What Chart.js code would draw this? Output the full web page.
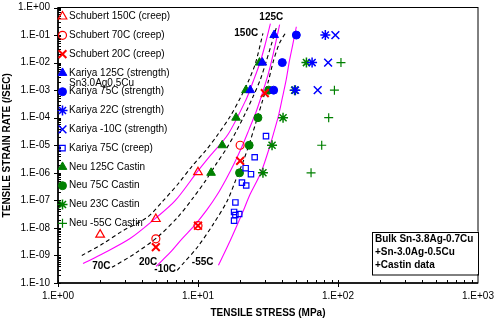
<!DOCTYPE html>
<html>
<head>
<meta charset="utf-8">
<script src="https://cdn.jsdelivr.net/npm/chart.js@4.4.1/dist/chart.umd.min.js"></script>
<style>
html, body { margin: 0; padding: 0; background: #fff; }
</style>
</head>
<body>
<canvas id="myChart" width="494" height="321"></canvas>
<script>
// axis ticks
const xTickValues = [1, 10, 100, 1000];
const xTickLabels = ['1.E+00', '1.E+01', '1.E+02', '1.E+03'];
const yTickValues = [1e-10, 1e-9, 1e-8, 1e-7, 1e-6, 1e-5, 1e-4, 1e-3, 1e-2, 1e-1, 1];
const yTickLabels = ['1.E-10', '1.E-09', '1.E-08', '1.E-07', '1.E-06', '1.E-05', '1.E-04', '1.E-03', '1.E-02', '1.E-01', '1.E+00'];

// measured points [stress MPa, strain rate 1/s]
const schubert150 = [[2, 5.7e-9], [5, 2.1e-8], [10, 1.05e-6]];
const schubert70 = [[5, 4e-9], [10, 1.2e-8], [20, 1e-5]];
const schubert20 = [[5, 2e-9], [10, 1.2e-8], [20, 2.7e-6], [30, 7.8e-4]];
const kariya125 = [[23.6, 1e-3], [28.8, 1e-2], [35, 1e-1]];
const kariya75 = [[34.7, 1e-3], [40, 1e-2], [50.4, 1e-1]];
const kariya22 = [[49.6, 1e-3], [65.3, 1e-2], [81.2, 1e-1]];
const kariyaM10 = [[71.6, 1e-3], [85, 1e-2], [95.8, 1e-1]];
const kariya75creep = [[25.4, 3.66e-6], [21.9, 1.47e-6], [23.9, 8.9e-7], [20.6, 4.4e-7], [22.1, 3.45e-7],
  [18.5, 8.4e-8], [18.1, 3.8e-8], [19.7, 3.2e-8], [18.5, 2.94e-8], [18.1, 1.84e-8], [30.6, 2.15e-5]];
const neu125 = [[12.4, 1e-6], [14.9, 1e-5], [18.7, 1e-4], [22, 1e-3], [27.5, 1e-2]];
const neu75 = [[19.8, 1e-6], [23.2, 1e-5], [26.8, 1e-4], [32, 1e-3]];
const neu23 = [[29.1, 1e-6], [33.8, 1e-5], [40.5, 1e-4], [49, 1e-3], [59.5, 1e-2]];
const neuM55 = [[64.2, 1e-6], [76.5, 1e-5], [85.8, 1e-4], [94.3, 1e-3], [105, 1e-2]];

// model curves
const dash1 = [[1.48, 1e-9], [2.1, 2.7e-9], [2.92, 8e-9], [4.33, 2.4e-8], [5.64, 9.7e-8], [7.22, 4e-7], [9.09, 1.77e-6],
  [11.3, 6.2e-6], [13.9, 2.5e-5], [17, 1.13e-4], [20, 5.1e-4], [22.9, 2.1e-3], [25.7, 9.3e-3], [29.1, 1.15e-1]];
const pink1 = [[1.51, 5.1e-10], [2.1, 1.18e-9], [3.27, 4.1e-9], [4.94, 2.17e-8], [6.87, 9.7e-8], [9.87, 1.08e-6],
  [12.2, 4.1e-6], [16.4, 2.5e-5], [22.1, 4.7e-4], [24.8, 2.1e-3], [27.9, 1.1e-2], [30.3, 4.9e-2], [32.9, 2.6e-1]];
const dash2 = [[2.43, 3.7e-10], [3.55, 1.18e-9], [5.19, 4.85e-9], [7.22, 2.56e-8], [9.24, 1.24e-7], [11.3, 5.1e-7],
  [13.5, 2.1e-6], [15.9, 7.3e-6], [18.8, 3.26e-5], [21.8, 1.45e-4], [24.8, 6e-4], [27.9, 2.45e-3], [30.7, 1.1e-2],
  [33.4, 4.5e-2], [36.3, 1.85e-1]];
const pink2 = [[5.02, 4e-10], [6.33, 1.28e-9], [7.71, 4.1e-9], [9.55, 1.32e-8], [11.6, 4.6e-8], [13.7, 1.59e-7],
  [15.9, 6e-7], [18.2, 2.28e-6], [20.7, 9.4e-6], [23.2, 3.85e-5], [26.1, 1.72e-4], [28.8, 7.7e-4], [31.8, 4e-3],
  [34.5, 2.13e-2], [38.3, 2.4e-1]];
const dash3 = [[7.1, 2.9e-10], [7.84, 5.1e-10], [9.87, 1.95e-9], [12.8, 1.32e-8], [16.2, 9.7e-8], [18.5, 5.1e-7],
  [21.1, 2.7e-6], [23.6, 1.42e-5], [26.1, 7.5e-5], [28.8, 3.9e-4], [31.8, 2.1e-3], [34.5, 1.1e-2], [38.1, 4.9e-2],
  [42.7, 1.33e-1]];
const pink3 = [[14, 4.4e-10], [17, 3.5e-9], [20.6, 3.2e-8], [23.6, 1.69e-7], [26.4, 5.1e-7], [28.8, 1.38e-6],
  [31.8, 6.2e-6], [34.5, 2.5e-5], [37.5, 1.13e-4], [40, 5.1e-4], [42.7, 2.45e-3], [44.9, 1.1e-2], [47.2, 3.8e-2],
  [50.4, 2e-1]];

// curve labels [text, stress, rate]
const curveLabels = [['150C', 22.1, 1.15e-1], ['125C', 33.4, 0.46], ['70C', 2.04, 4.1e-10],
  ['20C', 4.4, 5.7e-10], ['-10C', 5.83, 3.05e-10], ['-55C', 10.8, 5.7e-10]];
const boxLines = ['Bulk Sn-3.8Ag-0.7Cu', '+Sn-3.0Ag-0.5Cu', '+Castin data'];

const FONT = 'Arial, "Liberation Sans", sans-serif';
const RED = '#FF0000', BLUE = '#0000FF', GREEN = '#008000', PINK = '#FF00FF';
const NONE = 'rgba(0,0,0,0)';

const pts = arr => arr.map(p => ({x: p[0], y: p[1]}));

const series = [
  {label: 'Schubert 150C (creep)', data: schubert150, style: 'triangle', color: RED, bg: NONE, r: 5, bw: 1.2},
  {label: 'Schubert 70C (creep)', data: schubert70, style: 'circle', color: RED, bg: NONE, r: 4, bw: 1.2},
  {label: 'Schubert 20C (creep)', data: schubert20, style: 'crossRot', color: RED, bg: NONE, r: 5.5, bw: 2},
  {label: 'Kariya 125C (strength)', data: kariya125, style: 'triangle', color: BLUE, bg: BLUE, r: 5, bw: 1},
  {label: 'Kariya 75C (strength)', data: kariya75, style: 'circle', color: BLUE, bg: BLUE, r: 4, bw: 1},
  {label: 'Kariya 22C (strength)', data: kariya22, style: 'star', color: BLUE, bg: NONE, r: 5, bw: 1.5},
  {label: 'Kariya -10C (strength)', data: kariyaM10, style: 'crossRot', color: BLUE, bg: NONE, r: 5.5, bw: 1.5},
  {label: 'Kariya 75C (creep)', data: kariya75creep, style: 'rect', color: BLUE, bg: NONE, r: 3.8, bw: 1.2},
  {label: 'Neu 125C Castin', data: neu125, style: 'triangle', color: GREEN, bg: GREEN, r: 5, bw: 1},
  {label: 'Neu 75C Castin', data: neu75, style: 'circle', color: GREEN, bg: GREEN, r: 4, bw: 1},
  {label: 'Neu 23C Castin', data: neu23, style: 'star', color: GREEN, bg: NONE, r: 5, bw: 1.5},
  {label: 'Neu -55C Castin', data: neuM55, style: 'cross', color: GREEN, bg: NONE, r: 4.5, bw: 1.2}
];

const curves = [
  {data: dash1, color: '#000', dash: [4, 3]},
  {data: pink1, color: PINK, dash: []},
  {data: dash2, color: '#000', dash: [4, 3]},
  {data: pink2, color: PINK, dash: []},
  {data: dash3, color: '#000', dash: [4, 3]},
  {data: pink3, color: PINK, dash: []}
];

const datasets = [];
curves.forEach(c => datasets.push({
  data: pts(c.data), showLine: true, pointRadius: 0, borderColor: c.color, borderWidth: 1.1,
  borderDash: c.dash, tension: 0.3, order: 10
}));
series.forEach(s => datasets.push({
  label: s.label, data: pts(s.data), showLine: false, pointStyle: s.style, pointRadius: s.r,
  borderColor: s.color, backgroundColor: s.bg, pointBorderWidth: s.bw, order: 1
}));

function mark(ctx, s, x, y) {
  ctx.save();
  ctx.fillStyle = s.bg;
  ctx.strokeStyle = s.color;
  ctx.lineWidth = s.bw;
  Chart.helpers.drawPoint(ctx, {pointStyle: s.style, radius: s.r, rotation: 0, borderWidth: s.bw}, x, y);
  ctx.restore();
}

const decor = {
  id: 'decor',
  afterDraw(chart) {
    const {ctx, chartArea: a, scales: {x, y}} = chart;
    ctx.save();
    ctx.strokeStyle = '#000';
    ctx.lineWidth = 1;
    ctx.beginPath();
    // x ticks
    for (let e = 0; e < 3; e++) {
      for (let m = 1; m < 10; m++) {
        const px = Math.round(x.getPixelForValue(m * Math.pow(10, e))) + 0.5;
        if (m === 1) { ctx.moveTo(px, a.bottom - 3); ctx.lineTo(px, a.bottom + 4); }
        else { ctx.moveTo(px, a.bottom); ctx.lineTo(px, a.bottom - 3); }
      }
    }
    // y ticks
    for (let e = -10; e < 0; e++) {
      for (let m = 1; m < 10; m++) {
        const py = Math.round(y.getPixelForValue(m * Math.pow(10, e))) + 0.5;
        if (m === 1) { ctx.moveTo(a.left - 4, py); ctx.lineTo(a.left + 3, py); }
        else { ctx.moveTo(a.left, py); ctx.lineTo(a.left + 3, py); }
      }
    }
    ctx.moveTo(a.left - 4, Math.round(a.top) + 0.5); ctx.lineTo(a.left + 3, Math.round(a.top) + 0.5);
    ctx.stroke();

    // frame
    ctx.strokeRect(a.left, a.top, a.right - a.left, a.bottom - a.top);
    ctx.lineWidth = 1.6;
    ctx.beginPath();
    ctx.moveTo(a.left, a.top); ctx.lineTo(a.left, a.bottom); ctx.lineTo(a.right, a.bottom);
    ctx.stroke();

    // legend
    ctx.font = '10px ' + FONT;
    ctx.fillStyle = '#000';
    ctx.textBaseline = 'middle';
    ctx.textAlign = 'left';
    series.forEach((s, i) => {
      const ly = a.top + 9 + i * 18.8;
      mark(ctx, s, a.left + 4.5, ly);
      ctx.fillStyle = '#000';
      ctx.fillText(s.label, a.left + 11, ly);
    });
    ctx.fillText('Sn3.0Ag0.5Cu', a.left + 11, a.top + 76);

    // curve labels
    ctx.font = 'bold 10px ' + FONT;
    ctx.textAlign = 'center';
    curveLabels.forEach(l => {
      ctx.fillText(l[0], x.getPixelForValue(l[1]), y.getPixelForValue(l[2]));
    });

    // note box
    const bx = a.right - 106, by = a.bottom - 51.5, bw = 106, bh = 42.5;
    ctx.fillStyle = '#fff';
    ctx.fillRect(bx, by, bw, bh);
    ctx.lineWidth = 1;
    ctx.strokeRect(Math.round(bx) + 0.5, Math.round(by) + 0.5, bw, bh);
    ctx.fillStyle = '#000';
    ctx.textAlign = 'left';
    boxLines.forEach((t, i) => ctx.fillText(t, bx + 3, by + 8 + i * 12.7));
    ctx.restore();
  }
};

new Chart(document.getElementById('myChart'), {
  type: 'scatter',
  data: {datasets: datasets},
  options: {
    responsive: false,
    animation: false,
    devicePixelRatio: 1,
    layout: {padding: {top: 6, right: 16, left: 0, bottom: 0}},
    plugins: {legend: {display: false}, tooltip: {enabled: false}},
    scales: {
      x: {
        type: 'logarithmic', min: 1, max: 1000, position: 'bottom',
        afterBuildTicks: s => { s.ticks = xTickValues.map(v => ({value: v})); },
        afterFit: s => { s.height = 38; s.paddingLeft = 0; s.paddingRight = 0; },
        grid: {display: false, drawTicks: false},
        border: {display: false},
        ticks: {autoSkip: false, maxRotation: 0, padding: 7, color: '#000', font: {family: FONT, size: 10},
          callback: (v, i) => xTickLabels[i]},
        title: {display: true, text: 'TENSILE STRESS (MPa)', color: '#000',
          font: {family: FONT, size: 10, weight: 'bold'}, padding: {top: 0, bottom: 2}}
      },
      y: {
        type: 'logarithmic', min: 1e-10, max: 1, position: 'left',
        afterBuildTicks: s => { s.ticks = yTickValues.map(v => ({value: v})); },
        afterFit: s => { s.width = 58; s.paddingTop = 0; s.paddingBottom = 0; },
        grid: {display: false, drawTicks: false},
        border: {display: false},
        ticks: {autoSkip: false, padding: 8, color: '#000', font: {family: FONT, size: 10},
          callback: (v, i) => yTickLabels[i]},
        title: {display: true, text: 'TENSILE STRAIN RATE (/SEC)', color: '#000',
          font: {family: FONT, size: 10, weight: 'bold'}, padding: {top: 1, bottom: 0}}
      }
    }
  },
  plugins: [decor]
});
</script>
</body>
</html>
